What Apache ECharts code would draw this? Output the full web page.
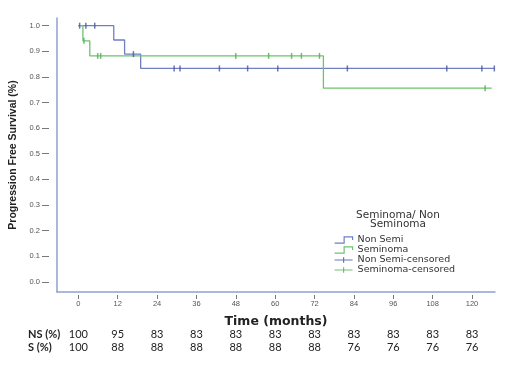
<!DOCTYPE html>
<html>
<head>
<meta charset="utf-8">
<script src="https://cdn.jsdelivr.net/npm/echarts@6/dist/echarts.min.js"></script>
<style>
html,body{margin:0;padding:0;background:#fff;}
#chart{width:507px;height:367px;}
</style>
</head>
<body>
<div id="chart"></div>
<script>
// ---- data ----
const monthTicks = [0, 12, 24, 36, 48, 60, 72, 84, 96, 108, 120];
const survTicks = [0, 0.1, 0.2, 0.3, 0.4, 0.5, 0.6, 0.7, 0.8, 0.9, 1.0];
const nsPct = [100, 95, 83, 83, 83, 83, 83, 83, 83, 83, 83];
const sPct  = [100, 88, 88, 88, 88, 88, 88, 76, 76, 76, 76];

const nonSemiTimes = [0, 10.8, 14.1, 19, 126.8];
const nonSemiSurv  = [1, 0.944, 0.889, 0.833, 0.833];
const semTimes = [0, 1.4, 3.5, 74.7, 126];
const semSurv  = [1, 0.941, 0.882, 0.756, 0.756];

const nonSemiCensTimes = [0.4, 2.3, 5, 16.8, 29.2, 31, 43, 51.6, 60.8, 82, 112.3, 123, 126.8];
const nonSemiCensSurv  = [1, 1, 1, 0.889, 0.833, 0.833, 0.833, 0.833, 0.833, 0.833, 0.833, 0.833, 0.833];
const semCensTimes = [1.7, 5.9, 6.8, 48, 58, 65, 68, 73.5, 124];
const semCensSurv  = [0.941, 0.882, 0.882, 0.882, 0.882, 0.882, 0.882, 0.882, 0.756];

const seriesNames = ['Non Semi', 'Seminoma', 'Non Semi-censored', 'Seminoma-censored'];
const legendTitle = 'Seminoma/ Non\nSeminoma';
const rowLabels = ['NS (%)', 'S (%)'];

// ---- styles ----
const blue = '#6e7fc2', blueDark = '#44569f';
const green = '#6cc46c', greenDark = '#4fae4f';
const axisColor = '#8ea2cf';
const zip = (a, b) => a.map((v, i) => [v, b[i]]);

const chart = echarts.init(document.getElementById('chart'), null, {renderer: 'canvas'});
const xMin = -6.5, xMax = 127, yMin = -0.04, yMax = 1.03;
const tickFont = {fontFamily: 'Liberation Sans, Arial, sans-serif', fontSize: 7.5, color: '#555'};
const tableFont = {fontFamily: 'Lato, sans-serif', fontSize: 11, color: '#222'};

chart.setOption({
  animation: false,
  backgroundColor: '#fff',
  title: {
    text: legendTitle, left: 398, top: 211, textAlign: 'center', padding: 0,
    textStyle: {fontFamily: 'DejaVu Sans, sans-serif', fontSize: 10.5, fontWeight: 'normal', color: '#333', lineHeight: 9}
  },
  legend: {
    orient: 'vertical', left: 334, top: 235, padding: 0, itemGap: 0,
    itemWidth: 18, itemHeight: 7, selectedMode: false,
    textStyle: {fontFamily: 'DejaVu Sans, sans-serif', fontSize: 9.5, color: '#333', lineHeight: 9},
    data: [
      {name: seriesNames[0], icon: 'path://M0,6L9,6L9,0L17,0L17,3', itemStyle: {color: 'rgba(0,0,0,0)', borderColor: blue, borderWidth: 1.2}},
      {name: seriesNames[1], icon: 'path://M0,6L9,6L9,0L17,0L17,3', itemStyle: {color: 'rgba(0,0,0,0)', borderColor: green, borderWidth: 1.2}},
      {name: seriesNames[2], icon: 'path://M0,3L20,3M10,0L10,6', itemStyle: {color: 'rgba(0,0,0,0)', borderColor: blueDark, borderWidth: 1.2}},
      {name: seriesNames[3], icon: 'path://M0,3L20,3M10,0L10,6', itemStyle: {color: 'rgba(0,0,0,0)', borderColor: greenDark, borderWidth: 1.2}}
    ]
  },
  grid: {left: 55, right: 12, top: 18, bottom: 75, containLabel: false},
  xAxis: [
    {type: 'value', min: xMin, max: xMax, position: 'bottom',
     axisLine: {show: true, onZero: false, lineStyle: {color: axisColor, width: 1.5}},
     axisTick: {show: false}, axisLabel: {show: false}, splitLine: {show: false},
     name: 'Time (months)', nameLocation: 'middle', nameGap: 23,
     nameTextStyle: {fontFamily: 'DejaVu Sans, sans-serif', fontWeight: 'bold', fontSize: 12.5, color: '#222'}},
    {type: 'value', min: xMin, max: xMax, position: 'bottom', offset: 3,
     axisLine: {show: false, onZero: false},
     axisTick: {show: true, length: 4, customValues: monthTicks, lineStyle: {color: '#777'}},
     axisLabel: {show: true, customValues: monthTicks, margin: 5, ...tickFont},
     splitLine: {show: false}},
    {type: 'value', min: xMin, max: xMax, position: 'bottom', offset: 37,
     axisLine: {show: false, onZero: false}, axisTick: {show: false}, splitLine: {show: false},
     axisLabel: {show: true, customValues: monthTicks, margin: 0, ...tableFont,
       formatter: v => String(nsPct[monthTicks.indexOf(v)])}},
    {type: 'value', min: xMin, max: xMax, position: 'bottom', offset: 50,
     axisLine: {show: false, onZero: false}, axisTick: {show: false}, splitLine: {show: false},
     axisLabel: {show: true, customValues: monthTicks, margin: 0, ...tableFont,
       formatter: v => String(sPct[monthTicks.indexOf(v)])}}
  ],
  yAxis: [
    {type: 'value', min: yMin, max: yMax, position: 'left',
     axisLine: {show: true, onZero: false, lineStyle: {color: axisColor, width: 1.5}},
     axisTick: {show: false}, axisLabel: {show: false}, splitLine: {show: false},
     name: 'Progression Free Survival (%)', nameLocation: 'middle', nameGap: 38,
     nameTextStyle: {fontFamily: 'Liberation Sans, Arial, sans-serif', fontWeight: 'bold', fontSize: 10.5, color: '#222'}},
    {type: 'value', min: yMin, max: yMax, position: 'left', offset: 8,
     axisLine: {show: false, onZero: false},
     axisTick: {show: true, length: 7, customValues: survTicks, lineStyle: {color: '#777'}},
     axisLabel: {show: true, customValues: survTicks, margin: 9, ...tickFont, formatter: v => v.toFixed(1)},
     splitLine: {show: false}}
  ],
  graphic: [
    {type: 'text', left: 28, top: 329, style: {text: rowLabels[0], font: 'bold 11px Lato, sans-serif', fill: '#222'}},
    {type: 'text', left: 28, top: 342, style: {text: rowLabels[1], font: 'bold 11px Lato, sans-serif', fill: '#222'}}
  ],
  series: [
    {name: seriesNames[0], type: 'line', step: 'end', showSymbol: false, data: zip(nonSemiTimes, nonSemiSurv),
     itemStyle: {color: blue}, lineStyle: {color: blue, width: 1.3}, z: 2},
    {name: seriesNames[1], type: 'line', step: 'end', showSymbol: false, data: zip(semTimes, semSurv),
     itemStyle: {color: green}, lineStyle: {color: green, width: 1.3}, z: 3},
    {name: seriesNames[2], type: 'scatter', symbol: 'rect', symbolSize: [1.5, 6], data: zip(nonSemiCensTimes, nonSemiCensSurv),
     itemStyle: {color: blueDark}, z: 4},
    {name: seriesNames[3], type: 'scatter', symbol: 'rect', symbolSize: [1.5, 6], data: zip(semCensTimes, semCensSurv),
     itemStyle: {color: greenDark}, z: 4}
  ]
});
</script>
</body>
</html>
